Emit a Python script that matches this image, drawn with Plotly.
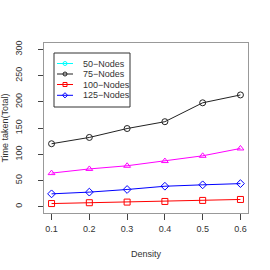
import plotly.graph_objects as go

density = [0.1, 0.2, 0.3, 0.4, 0.5, 0.6]
x_ticklabels = ["0.1", "0.2", "0.3", "0.4", "0.5", "0.6"]
y_ticks = [0, 50, 100, 150, 200, 250, 300]

nodes50 = [64, 72, 78, 87, 97, 111]       # magenta triangles
nodes75 = [120, 132, 149, 162, 198, 213]  # black circles
nodes100 = [6, 7.6, 8.8, 10, 12, 13.8]    # red squares
nodes125 = [24.5, 27.8, 32.8, 39, 41.7, 44]  # blue diamonds

legend_labels = ["50\u2212Nodes", "75\u2212Nodes", "100\u2212Nodes", "125\u2212Nodes"]
legend_colors = ["#00FFFF", "#222222", "#FF0000", "#0000FF"]
legend_symbols = ["circle-open", "circle-open", "square-open", "diamond-open"]

W, H = 270, 270
L, R, T, B = 44, 22, 43, 57
PW, PH = W - L - R, H - T - B

def px(x):
    return (x - L) / PW

def py(y):
    return (H - B - y) / PH

FONT = "Liberation Sans, Arial, sans-serif"
fig = go.Figure()

series = [
    (nodes75, "#222222", "circle-open"),
    (nodes50, "#FF00FF", "triangle-up-open"),
    (nodes125, "#0000FF", "diamond-open"),
    (nodes100, "#FF0000", "square-open"),
]
for vals, col, sym in series:
    fig.add_trace(go.Scatter(
        x=density, y=vals, mode="lines+markers",
        line=dict(color=col, width=1),
        marker=dict(symbol=sym, size=6, color=col, line=dict(color=col, width=1)),
        showlegend=False, hoverinfo="skip"))

# legend box (manual, R style)
lx0, lx1, ly0, ly1 = 54, 130, 53, 107
rows = [63.5, 74, 84.5, 95.3]
shapes = [dict(type="rect", xref="paper", yref="paper",
               x0=px(lx0), x1=px(lx1), y0=py(ly1), y1=py(ly0),
               line=dict(color="#333333", width=1))]
annotations = []
for i, lab in enumerate(legend_labels):
    shapes.append(dict(type="line", xref="paper", yref="paper",
                       x0=px(57), x1=px(73), y0=py(rows[i]), y1=py(rows[i]),
                       line=dict(color=legend_colors[i], width=1)))
    annotations.append(dict(text=lab, xref="paper", yref="paper",
                            x=px(81), y=py(rows[i]), xanchor="left", yanchor="middle",
                            showarrow=False, font=dict(size=9, color="#333", family=FONT)))
fig.add_trace(go.Scatter(
    x=[px(65)] * 4, y=[py(r) for r in rows], xaxis="x2", yaxis="y2",
    mode="markers", showlegend=False, hoverinfo="skip",
    marker=dict(symbol=legend_symbols, size=4, color=legend_colors,
                line=dict(color=legend_colors, width=1))))

fig.update_layout(
    template="none",
    width=W, height=H, margin=dict(l=L, r=R, t=T, b=B),
    paper_bgcolor="white", plot_bgcolor="white",
    font=dict(family=FONT, size=9, color="#333"),
    shapes=shapes, annotations=annotations,
    xaxis=dict(range=[0.08, 0.62], tickvals=density, ticktext=x_ticklabels,
               automargin=False,
               ticks="outside", ticklen=6, tickcolor="#444", showline=True,
               linecolor="#999", linewidth=1, mirror=True, showgrid=False,
               zeroline=False, tickfont=dict(size=9), ticklabelstandoff=1,
               title=dict(text="Density", font=dict(size=9), standoff=17)),
    yaxis=dict(range=[-12, 312], tickvals=y_ticks, ticks="outside", ticklen=5,
               automargin=False,
               tickcolor="#444", showline=True, linecolor="#999", linewidth=1,
               mirror=True, showgrid=False, zeroline=False, tickangle=-90,
               tickfont=dict(size=9), ticklabelstandoff=12,
               title=dict(text="Time taken(Total)", font=dict(size=9), standoff=6)),
    xaxis2=dict(overlaying="x", range=[0, 1], visible=False),
    yaxis2=dict(overlaying="y", range=[0, 1], visible=False),
)

fig.write_html("out.html", config={"displayModeBar": False},
               post_script="document.body.style.margin='0';")
